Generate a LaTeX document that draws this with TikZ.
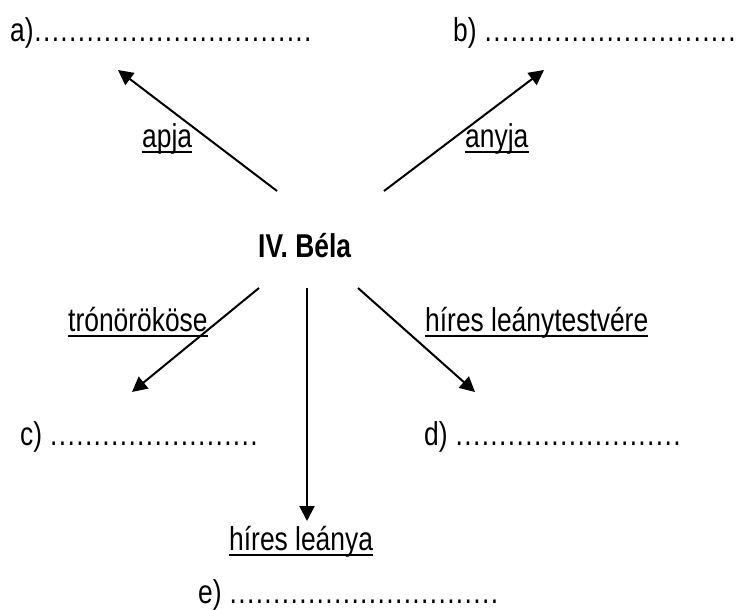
\documentclass[tikz,border=0pt]{standalone}
\usepackage{fontspec}
\setmainfont{Liberation Sans}[FakeStretch=0.8]
\usetikzlibrary{arrows.meta}
\tikzset{
  txt/.style={anchor=base west, inner sep=0pt, font=\fontsize{33}{36}\selectfont},
  arr/.style={line width=2pt, -{Triangle[length=15pt,width=15pt]}},
  ul/.style={line width=2.4pt},
}
\newcount\mydotcnt
\newcommand{\dotrun}[1]{\mydotcnt=0 \loop\ifnum\mydotcnt<#1 \hbox to 8.7pt{\hss.\hss}\advance\mydotcnt by 1 \repeat}
\newcommand{\ulabel}[3]{%
  \node[txt] (#1) at #2 {#3};
  \draw[ul] ([yshift=-5pt]#1.base west) -- ([yshift=-5pt]#1.base east);
}
\begin{document}
\begin{tikzpicture}[x=1pt,y=-1pt]
\useasboundingbox[fill=white] (0,0) rectangle (737,610);
% centre
\node[txt, font=\fontsize{33}{36}\selectfont\bfseries] (bela) at (258,257) {IV. Béla};
% answer lines
\node[txt] (a) at (10,42) {a)\dotrun{32}};
\node[txt] (b) at (453,42) {b) \dotrun{29}};
\node[txt] (c) at (20,445) {c) \dotrun{24}};
\node[txt] (d) at (424,445) {d) \dotrun{26}};
\node[txt] (e) at (198,603) {e) \dotrun{31}};
% arrow ends
\coordinate (a0) at (277,191); \coordinate (a1) at (118,70);
\coordinate (b0) at (384,191); \coordinate (b1) at (544,70);
\coordinate (c0) at (259,288); \coordinate (c1) at (132,392);
\coordinate (d0) at (358,288); \coordinate (d1) at (475,392);
\coordinate (e0) at (307,288); \coordinate (e1) at (307,521);
% labels
\ulabel{apja}{(142,147)}{apja}
\ulabel{anyja}{(465,147)}{anyja}
\ulabel{tron}{(68,331)}{trónörököse}
\ulabel{testv}{(425,331)}{híres leánytestvére}
\ulabel{leanya}{(229,550)}{híres leánya}
% arrows
\draw[arr] (a0) -- (a1);
\draw[arr] (b0) -- (b1);
\draw[arr] (c0) -- (c1);
\draw[arr] (d0) -- (d1);
\draw[arr] (e0) -- (e1);
\end{tikzpicture}
\end{document}
